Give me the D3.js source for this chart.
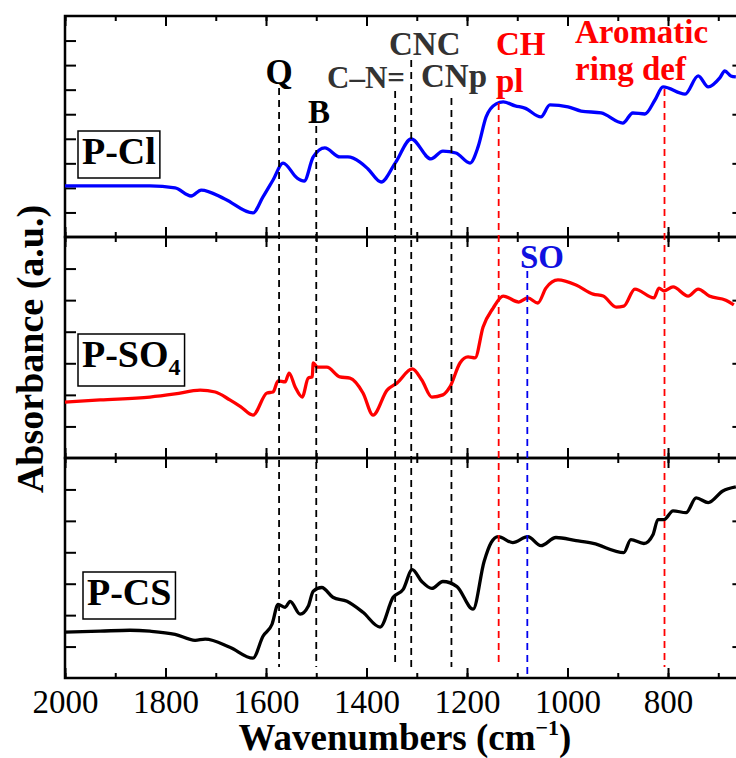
<!DOCTYPE html>
<html>
<head>
<meta charset="utf-8">
<script src="https://cdn.jsdelivr.net/npm/d3@7"></script>
<style>
  body { margin: 0; background: #fff; }
  svg { display: block; }
  text { font-family: "Liberation Serif", "Times New Roman", serif; }
</style>
</head>
<body>
<svg id="chart" width="736" height="758"></svg>
<script>
// P-Cl spectrum (top panel)
const pclWn  = [2000, 1831, 1781, 1749, 1729, 1682, 1626, 1606, 1586, 1566, 1538, 1524, 1506, 1483, 1453, 1437, 1413, 1397, 1371, 1343, 1311, 1272, 1248, 1222, 1194, 1178, 1162, 1142, 1128, 1104, 1085, 1053, 1035, 999, 973, 933, 890, 870, 846, 826, 810, 766, 740, 720, 697, 687, 675, 665];
const pclAbs = [2.08, 2.08, 2.00, 1.67, 1.91, 1.55, 0.98, 1.63, 2.32, 3.01, 2.40, 2.28, 3.26, 3.63, 3.26, 3.26, 3.05, 2.77, 2.24, 3.01, 3.99, 3.18, 3.50, 3.42, 3.01, 3.67, 4.89, 5.42, 5.50, 5.34, 5.25, 4.89, 5.38, 5.30, 5.13, 5.05, 4.64, 5.05, 5.01, 5.58, 6.11, 5.82, 6.56, 6.11, 6.48, 6.76, 6.56, 6.52];

// P-SO4 spectrum (middle panel)
const pso4Wn  = [2000, 1930, 1831, 1781, 1731, 1701, 1672, 1650, 1626, 1598, 1586, 1576, 1562, 1554, 1542, 1528, 1516, 1508, 1506, 1498, 1479, 1453, 1433, 1407, 1387, 1359, 1339, 1309, 1290, 1270, 1248, 1234, 1214, 1198, 1184, 1168, 1148, 1128, 1097, 1079, 1059, 1043, 1019, 983, 949, 929, 903, 888, 866, 828, 818, 808, 790, 760, 740, 718, 685, 669];
const pso4Abs = [1.77, 1.84, 1.93, 2.03, 2.15, 2.09, 1.84, 1.62, 1.36, 2.06, 2.09, 2.44, 2.41, 2.69, 2.25, 1.93, 2.53, 2.57, 3.01, 2.88, 2.88, 2.57, 2.53, 2.06, 1.36, 2.15, 2.38, 2.82, 2.47, 1.93, 2.00, 2.25, 3.01, 3.20, 3.17, 4.15, 4.75, 5.13, 4.94, 5.07, 4.91, 5.38, 5.64, 5.48, 5.19, 5.13, 4.78, 4.81, 5.35, 5.07, 5.38, 5.29, 5.42, 5.13, 5.35, 5.13, 5.00, 4.85];

// P-CS spectrum (bottom panel)
const pcsWn  = [2000, 1930, 1871, 1831, 1781, 1741, 1721, 1672, 1626, 1606, 1588, 1576, 1562, 1552, 1532, 1516, 1506, 1489, 1467, 1439, 1407, 1373, 1347, 1327, 1309, 1290, 1270, 1248, 1220, 1188, 1166, 1152, 1138, 1109, 1079, 1053, 1023, 983, 949, 888, 874, 848, 830, 820, 808, 790, 764, 744, 720, 691, 665];
const pcsAbs = [1.46, 1.49, 1.52, 1.49, 1.39, 1.20, 1.24, 0.98, 0.63, 1.33, 1.71, 2.34, 2.25, 2.44, 2.03, 2.28, 2.76, 2.88, 2.57, 2.44, 2.09, 1.62, 2.57, 2.82, 3.45, 3.07, 2.85, 3.07, 2.91, 2.19, 3.71, 4.31, 4.50, 4.31, 4.50, 4.21, 4.47, 4.37, 4.28, 3.99, 4.40, 4.28, 4.56, 5.04, 5.04, 5.32, 5.26, 5.73, 5.58, 5.95, 6.08];

// band assignments
const bandNames  = ["Q", "B", "C–N=", "CNC", "CNp", "CH pl", "SO", "Aromatic ring def"];
const bandWn     = [1574, 1500, 1343, 1311, 1231, 1137, 1080, 807];
const bandColors = ["#000", "#000", "#000", "#000", "#000", "#ff0000", "#0000ee", "#ff0000"];

const sampleNames  = ["P-Cl", "P-SO4", "P-CS"];
const sampleColors = ["#0000ff", "#ff0000", "#000000"];
const yMax = [9, 7, 7];

const xTicksMajor = [2000, 1800, 1600, 1400, 1200, 1000, 800];

const FONT = "'Liberation Serif', 'Times New Roman', serif";
const svg = d3.select("#chart");
const left = 65, right = 743.4;
const panelTops = [16, 237, 458], panelBottoms = [237, 458, 678];

const x = d3.scaleLinear().domain([2000, 650]).range([left, right]);

const series = [
  pclWn.map((w, i) => [w, pclAbs[i]]),
  pso4Wn.map((w, i) => [w, pso4Abs[i]]),
  pcsWn.map((w, i) => [w, pcsAbs[i]])
];

const minorTicks = d3.range(2000, 649, -100);

series.forEach((data, p) => {
  const top = panelTops[p], bottom = panelBottoms[p];
  const y = d3.scaleLinear().domain([0, yMax[p]]).range([bottom, top]);
  const g = svg.append("g");

  // ticks, all pointing inward
  const yAll = d3.range(1, yMax[p]);
  const yOdd = yAll.filter(v => v % 2 === 1);
  g.append("g").attr("transform", `translate(${left},0)`)
    .call(d3.axisLeft(y).tickValues(yAll).tickSize(-11).tickFormat(""));
  g.append("g").attr("transform", `translate(${right},0)`)
    .call(d3.axisRight(y).tickValues(yOdd).tickSize(-11).tickFormat(""));
  g.append("g").attr("transform", `translate(0,${top})`)
    .call(d3.axisTop(x).tickValues(minorTicks).tickSize(-5).tickFormat(""));
  g.append("g").attr("transform", `translate(0,${top})`)
    .call(d3.axisTop(x).tickValues(xTicksMajor).tickSize(-10).tickFormat(""));
  g.append("g").attr("transform", `translate(0,${bottom})`)
    .call(d3.axisBottom(x).tickValues(minorTicks).tickSize(-5).tickFormat(""));
  const bx = g.append("g").attr("transform", `translate(0,${bottom})`)
    .call(d3.axisBottom(x).tickValues(xTicksMajor).tickSize(-10).tickPadding(12)
      .tickFormat(p === 2 ? d3.format("d") : ""));
  g.selectAll(".domain").remove();
  g.selectAll(".tick line").attr("stroke", "#000").attr("stroke-width", 2);
  bx.attr("font-family", FONT).attr("font-size", 33);
  bx.selectAll("text").attr("fill", "#000").style("font-family", FONT);

  // frame
  g.append("rect").attr("x", left).attr("y", top)
    .attr("width", right - left).attr("height", bottom - top)
    .attr("fill", "none").attr("stroke", "#000").attr("stroke-width", 2.5);

  // spectrum
  g.append("path").datum(data)
    .attr("d", d3.line().x(d => x(d[0])).y(d => y(d[1])).curve(d3.curveMonotoneX))
    .attr("fill", "none").attr("stroke", sampleColors[p])
    .attr("stroke-width", 3.3).attr("stroke-linejoin", "round");
});

// dashed band lines
const lineTop = [88, 126, 91, 60, 98, 103, 271, 89];
bandWn.forEach((w, i) => {
  svg.append("line")
    .attr("x1", x(w)).attr("x2", x(w))
    .attr("y1", lineTop[i]).attr("y2", i === 6 ? 678 : 667)
    .attr("stroke", bandColors[i]).attr("stroke-width", 1.8)
    .attr("stroke-dasharray", "7,5");
});

// band labels
const labelSpecs = [
  { lines: ["Q"], x: 279, y: 84, size: 35, anchor: "middle", fill: "#000" },
  { lines: ["B"], x: 319, y: 123, size: 33, anchor: "middle", fill: "#000" },
  { lines: ["C–N="], x: 327, y: 88, size: 31, anchor: "start", fill: "#333" },
  { lines: ["CNC"], x: 389, y: 55, size: 33, anchor: "start", fill: "#333" },
  { lines: ["CNp"], x: 421, y: 87, size: 33, anchor: "start", fill: "#333" },
  { lines: ["CH", "pl"], x: 496, y: 55, size: 33, anchor: "start", fill: "#ff0000" },
  { lines: ["SO"], x: 520, y: 268, size: 33, anchor: "start", fill: "#1010e0" },
  { lines: ["Aromatic", "ring def"], x: 575, y: 43, size: 33, anchor: "start", fill: "#ff0000" }
];
labelSpecs.forEach(s => {
  const t = svg.append("text")
    .attr("x", s.x).attr("y", s.y)
    .attr("font-size", s.size).attr("font-weight", "bold")
    .attr("text-anchor", s.anchor).attr("fill", s.fill);
  s.lines.forEach((line, k) => {
    t.append("tspan").attr("x", s.x).attr("dy", k === 0 ? 0 : 37).text(line);
  });
});

// sample boxes
const boxSpecs = [
  { x: 82, y: 164 },
  { x: 82, y: 367 },
  { x: 87, y: 605 }
];
sampleNames.forEach((name, p) => {
  const grp = svg.append("g");
  const rect = grp.append("rect");
  const t = grp.append("text")
    .attr("x", boxSpecs[p].x).attr("y", boxSpecs[p].y)
    .attr("font-size", 38).attr("font-weight", "bold").attr("fill", "#000");
  if (name === "P-SO4") {
    t.append("tspan").text("P-SO");
    t.append("tspan").attr("font-size", 24).attr("dy", 8).text("4");
  } else {
    t.text(name);
  }
  const bb = t.node().getBBox();
  rect.attr("x", bb.x - 4).attr("y", bb.y + 1)
    .attr("width", bb.width + 8).attr("height", bb.height + 5)
    .attr("fill", "#fff").attr("stroke", "#000").attr("stroke-width", 1.5);
});

// axis titles
svg.append("text")
  .attr("transform", "translate(43,349) rotate(-90)")
  .attr("text-anchor", "middle")
  .attr("font-size", 38).attr("font-weight", "bold")
  .text("Absorbance (a.u.)");

const xt = svg.append("text")
  .attr("x", 405).attr("y", 750)
  .attr("text-anchor", "middle")
  .attr("font-size", 37).attr("font-weight", "bold");
xt.append("tspan").text("Wavenumbers (cm");
xt.append("tspan").attr("font-size", 22).attr("dy", -15).text("−1");
xt.append("tspan").attr("dy", 15).text(")");
</script>
</body>
</html>
